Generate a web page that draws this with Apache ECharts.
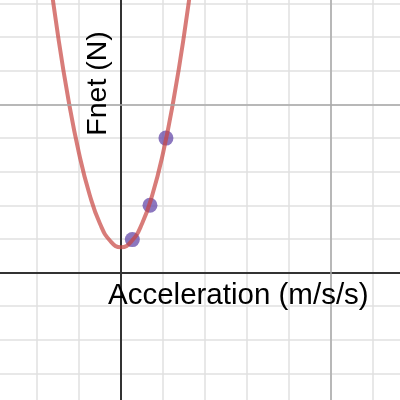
<!DOCTYPE html>
<html><head><meta charset="utf-8">
<script src="https://cdn.jsdelivr.net/npm/echarts@6/dist/echarts.min.js"></script>
<style>html,body{margin:0;padding:0;background:#fff;overflow:hidden;width:400px;height:400px}
#c{position:absolute;left:-5px;top:-30.4px;width:420px;height:436.8px}</style>
</head><body><div id="c"></div>
<script>
// Data (graph units: one minor grid square = 1)
const pointsX = [0.27, 0.69, 1.07];
const pointsY = [0.98, 2.0, 4.0];
const curveX = [-1.75, -1.5, -1.25, -1.0, -0.75, -0.5, -0.25, 0, 0.25, 0.5, 0.75, 1.0, 1.25, 1.5, 1.75];
const curveY = [9.33, 7.05, 5.13, 3.55, 2.33, 1.45, 0.93, 0.75, 0.93, 1.45, 2.33, 3.55, 5.13, 7.05, 9.33];
const majorX = [5];
const majorY = [5];
const xTitle = 'Acceleration (m/s/s)';
const yTitle = 'Fnet (N)';

const OX = 5, OY = 30.4; // page -> chart offset
const chart = echarts.init(document.getElementById('c'), null, {renderer: 'canvas'});
const font = 'Liberation Sans, Arial, sans-serif';
chart.setOption({
  animation: false,
  backgroundColor: '#fff',
  grid: {left: 0, right: 0, top: 0, bottom: 0, containLabel: false},
  xAxis: {type: 'value', min: -3, max: 7, interval: 1,
    axisLine: {onZero: true, lineStyle: {color: '#333', width: 2}},
    axisTick: {show: false}, axisLabel: {show: false},
    splitLine: {show: true, lineStyle: {color: '#e0e0e0', width: 1.5}}},
  yAxis: {type: 'value', min: -4, max: 9, interval: 1,
    axisLine: {onZero: true, lineStyle: {color: '#333', width: 2}},
    axisTick: {show: false}, axisLabel: {show: false},
    splitLine: {show: true, lineStyle: {color: '#e0e0e0', width: 1.5}}},
  series: [
    {type: 'line', data: [], silent: true, z: 1,
      markLine: {silent: true, symbol: 'none', label: {show: false},
        lineStyle: {color: '#a8a8a8', width: 1.5, type: 'solid'},
        data: majorX.map(v => ({xAxis: v})).concat(majorY.map(v => ({yAxis: v})))}},
    {type: 'scatter', data: pointsX.map((x, i) => [x, pointsY[i]]), symbolSize: 15, z: 3,
      itemStyle: {color: '#6042a6', opacity: 0.72}},
    {type: 'line', data: curveX.map((x, i) => [x, curveY[i]]), smooth: true, showSymbol: false, z: 4,
      lineStyle: {color: '#c74440', width: 4, opacity: 0.7}, clip: true}
  ],
  graphic: [
    {type: 'text', left: 108 + OX, top: 280 + OY, z: 10,
      style: {text: xTitle, font: '29.5px ' + font, fill: '#000'}},
    {type: 'text', x: 98 + OX, y: 83 + OY, rotation: Math.PI / 2, z: 10,
      style: {text: yTitle, font: '28.5px ' + font, fill: '#000', align: 'center', verticalAlign: 'middle'}}
  ]
});
</script></body></html>
